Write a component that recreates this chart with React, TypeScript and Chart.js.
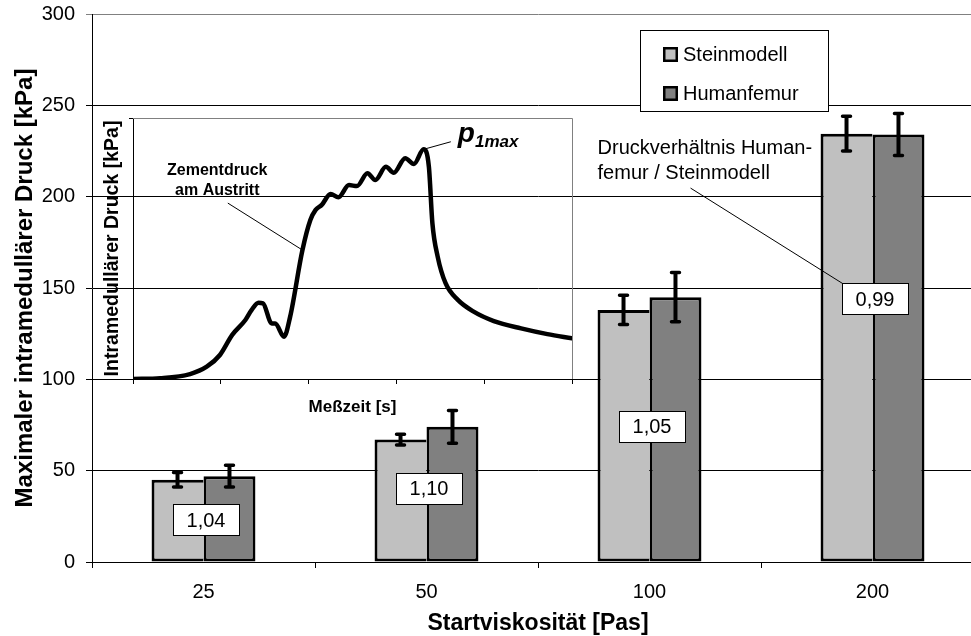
import React, { useEffect, useRef } from 'react';
import { Chart, registerables } from 'chart.js';

Chart.register(...registerables);

const FONT = '"Liberation Sans", Arial, sans-serif';

// ---- main chart data ----
const categories = ['25', '50', '100', '200'];
const seriesNames = ['Steinmodell', 'Humanfemur'];
const steinmodell = [45, 67, 138, 234.5];
const steinmodellErr = [4, 3, 8, 9.5];
const humanfemur = [47, 74, 145, 234];
const humanfemurErr = [6, 9, 13.5, 11.5];
const ratioLabels = ['1,04', '1,10', '1,05', '0,99'];
const yMin = 0;
const yMax = 300;
const yStep = 50;

// ---- inset curve data (Meßzeit vs. Intramedullärer Druck) ----
const insetTime = [0, 0.31, 0.65, 0.84, 0.99, 1.13, 1.28, 1.35, 1.43, 1.48, 1.58, 1.62, 1.72, 1.79, 1.93, 2.02, 2.08, 2.15, 2.25, 2.34, 2.46, 2.55, 2.67, 2.76, 2.88, 2.97, 3.1, 3.2, 3.31, 3.37, 3.41, 3.47, 3.56, 3.7, 3.88, 4.11, 4.42, 4.72, 5.0];
const insetPressure = [0, 0.3, 1.9, 4.7, 9.2, 16.9, 22.6, 26.4, 29.2, 29, 21.3, 21.3, 16.2, 23.9, 49.4, 60.9, 64.8, 66.7, 70.9, 69.6, 74.3, 73.9, 78.8, 76.2, 81.3, 79, 84.6, 82.4, 88, 81.3, 59.7, 46.9, 36.7, 30.3, 25.8, 22.2, 19.4, 17.2, 15.6];

// ---- annotation anchors (in data space) ----
const ratioAnchorValue = [23, 40.5, 74.3, 144];
const noteAnchor = { cat: 1.767, lines: [226.6, 212.9] };
const noteLeaderStart = { cat: 2.184, value: 204.7 };

const errorBarPlugin = {
  id: 'errorBars',
  afterDatasetsDraw(chart: any) {
    const { ctx } = chart;
    const y = chart.scales.y;
    const errs = [steinmodellErr, humanfemurErr];
    chart.data.datasets.forEach((ds: any, di: number) => {
      const meta = chart.getDatasetMeta(di);
      meta.data.forEach((bar: any, i: number) => {
        const v = ds.data[i] as number;
        const e = errs[di][i];
        const yt = y.getPixelForValue(v + e);
        const yb = y.getPixelForValue(v - e);
        const cx = bar.x;
        ctx.save();
        ctx.strokeStyle = '#000';
        ctx.lineWidth = 4;
        ctx.lineCap = 'butt';
        ctx.beginPath();
        ctx.moveTo(cx, yt);
        ctx.lineTo(cx, yb);
        ctx.stroke();
        ctx.lineWidth = 3.5;
        ctx.lineCap = 'round';
        ctx.beginPath();
        ctx.moveTo(cx - 4, yt);
        ctx.lineTo(cx + 4, yt);
        ctx.moveTo(cx - 4, yb);
        ctx.lineTo(cx + 4, yb);
        ctx.stroke();
        ctx.restore();
      });
    });
  },
};

function drawBox(ctx: CanvasRenderingContext2D, cx: number, cy: number, text: string) {
  const w = 66;
  const h = 31;
  ctx.fillStyle = '#fff';
  ctx.fillRect(Math.round(cx - w / 2) + 0.5, Math.round(cy - h / 2) + 0.5, w, h);
  ctx.strokeStyle = '#000';
  ctx.lineWidth = 1;
  ctx.strokeRect(Math.round(cx - w / 2) + 0.5, Math.round(cy - h / 2) + 0.5, w, h);
  ctx.fillStyle = '#000';
  ctx.font = `20px ${FONT}`;
  ctx.textAlign = 'center';
  ctx.textBaseline = 'middle';
  ctx.fillText(text, cx + 0.5, cy + 1.5);
}

const annotationPlugin = {
  id: 'annotations',
  afterDraw(chart: any) {
    const { ctx, chartArea } = chart;
    const x = chart.scales.x;
    const y = chart.scales.y;
    ctx.save();

    // note text
    ctx.fillStyle = '#000';
    ctx.font = `20px ${FONT}`;
    ctx.textAlign = 'left';
    ctx.textBaseline = 'middle';
    const nx = x.getPixelForValue(noteAnchor.cat);
    ctx.fillText('Druckverhältnis Human-', nx, y.getPixelForValue(noteAnchor.lines[0]));
    ctx.fillText('femur / Steinmodell', nx, y.getPixelForValue(noteAnchor.lines[1]));

    // leader line to last ratio box
    const last = categories.length - 1;
    const bx = x.getPixelForValue(last) + 3;
    const by = y.getPixelForValue(ratioAnchorValue[last]);
    ctx.strokeStyle = '#000';
    ctx.lineWidth = 1;
    ctx.beginPath();
    ctx.moveTo(x.getPixelForValue(noteLeaderStart.cat), y.getPixelForValue(noteLeaderStart.value));
    ctx.lineTo(bx - 29, by - 13);
    ctx.stroke();

    // ratio boxes
    ratioLabels.forEach((t, i) => {
      drawBox(ctx, x.getPixelForValue(i) + 2, y.getPixelForValue(ratioAnchorValue[i]), t);
    });

    // legend
    const lx = chartArea.left + 548;
    const ly = chartArea.top + 16;
    const lw = 188;
    const lh = 81;
    ctx.fillStyle = '#fff';
    ctx.fillRect(lx + 0.5, ly + 0.5, lw, lh);
    ctx.strokeStyle = '#000';
    ctx.lineWidth = 1;
    ctx.strokeRect(lx + 0.5, ly + 0.5, lw, lh);
    chart.data.datasets.forEach((ds: any, i: number) => {
      const cy = ly + 24 + i * 39;
      ctx.fillStyle = '#000';
      ctx.fillRect(lx + 23, cy - 7, 15, 15);
      ctx.fillStyle = ds.backgroundColor;
      ctx.fillRect(lx + 25.5, cy - 4.5, 10, 10);
      ctx.fillStyle = '#000';
      ctx.font = `20px ${FONT}`;
      ctx.textAlign = 'left';
      ctx.textBaseline = 'middle';
      ctx.fillText(ds.label, lx + 43, cy + 1);
    });
    ctx.restore();
  },
};

const insetPlugin = {
  id: 'insetDecor',
  beforeDatasetsDraw(chart: any) {
    const { ctx, chartArea } = chart;
    ctx.save();
    ctx.strokeStyle = '#808080';
    ctx.lineWidth = 1;
    ctx.beginPath();
    ctx.moveTo(chartArea.left, chartArea.top + 0.5);
    ctx.lineTo(chartArea.right + 0.5, chartArea.top + 0.5);
    ctx.lineTo(chartArea.right + 0.5, chartArea.bottom);
    ctx.stroke();
    ctx.restore();
  },
  afterDraw(chart: any) {
    const { ctx } = chart;
    const xs = chart.scales.x;
    const ys = chart.scales.y;
    ctx.save();
    ctx.fillStyle = '#000';
    ctx.strokeStyle = '#000';
    ctx.lineWidth = 1;

    // p1max
    let peak = 0;
    insetPressure.forEach((v, i) => { if (v > insetPressure[peak]) peak = i; });
    ctx.beginPath();
    ctx.moveTo(xs.getPixelForValue(insetTime[peak]), ys.getPixelForValue(insetPressure[peak]));
    ctx.lineTo(xs.getPixelForValue(3.62), ys.getPixelForValue(90.9));
    ctx.stroke();
    const px = xs.getPixelForValue(3.7);
    const py = ys.getPixelForValue(90.8);
    ctx.textAlign = 'left';
    ctx.textBaseline = 'alphabetic';
    ctx.font = `italic bold 28px ${FONT}`;
    ctx.fillText('p', px, py);
    const pw = ctx.measureText('p').width;
    ctx.font = `italic bold 17px ${FONT}`;
    ctx.fillText('1max', px + pw, py + 5);

    // Zementdruck am Austritt
    ctx.font = `bold 16px ${FONT}`;
    ctx.textAlign = 'center';
    ctx.textBaseline = 'middle';
    ctx.fillText('Zementdruck', xs.getPixelForValue(0.96), ys.getPixelForValue(79.7));
    ctx.fillText('am Austritt', xs.getPixelForValue(0.96), ys.getPixelForValue(72));
    ctx.beginPath();
    ctx.moveTo(xs.getPixelForValue(1.08), ys.getPixelForValue(67.4));
    ctx.lineTo(xs.getPixelForValue(insetTime[14]), ys.getPixelForValue(insetPressure[14]));
    ctx.stroke();
    ctx.restore();
  },
};

export default function App() {
  const mainRef = useRef<HTMLCanvasElement>(null);
  const insetRef = useRef<HTMLCanvasElement>(null);

  useEffect(() => {
    if (!mainRef.current || !insetRef.current) return;
    const main = new Chart(mainRef.current, {
      type: 'bar',
      data: {
        labels: categories,
        datasets: [
          {
            label: seriesNames[0],
            data: steinmodell,
            backgroundColor: '#C0C0C0',
            borderColor: '#000',
            borderWidth: { left: 3, top: 3, bottom: 3, right: 0 } as any,
            borderSkipped: false,
            categoryPercentage: 0.466,
            barPercentage: 1,
          },
          {
            label: seriesNames[1],
            data: humanfemur,
            backgroundColor: '#808080',
            borderColor: '#000',
            borderWidth: 3,
            borderSkipped: false,
            categoryPercentage: 0.466,
            barPercentage: 1,
          },
        ],
      },
      options: {
        responsive: false,
        animation: false,
        devicePixelRatio: 1,
        layout: { padding: { left: 0, top: 14, right: 6, bottom: 0 } },
        plugins: {
          legend: { display: false },
          tooltip: { enabled: false },
        },
        scales: {
          x: {
            grid: { drawOnChartArea: false, drawTicks: true, tickLength: 6, color: '#000', offset: true },
            border: { color: '#000', width: 1 },
            ticks: { color: '#000', font: { family: FONT, size: 20 }, padding: 12 },
            title: {
              display: true,
              text: 'Startviskosität [Pas]',
              color: '#000',
              font: { family: FONT, size: 23, weight: 'bold', lineHeight: 1 },
              padding: { top: 0, bottom: 4.5 },
            },
            afterFit: (s: any) => { s.height = 78; s.paddingLeft = 0; s.paddingRight = 0; },
          },
          y: {
            min: yMin,
            max: yMax,
            ticks: { stepSize: yStep, color: '#000', font: { family: FONT, size: 20 }, padding: 11 },
            grid: {
              color: (c: any) => (c.tick && c.tick.value === yMax ? '#808080' : '#000'),
              tickLength: 6,
            },
            border: { color: '#000', width: 1 },
            title: {
              display: true,
              text: 'Maximaler intramedullärer Druck [kPa]',
              color: '#000',
              font: { family: FONT, size: 24, weight: 'bold', lineHeight: 1 },
              padding: { top: 13, bottom: 0 },
            },
            afterFit: (s: any) => { s.width = 92; s.paddingTop = 0; s.paddingBottom = 0; },
          },
        },
      } as any,
      plugins: [errorBarPlugin, annotationPlugin],
    });

    const inset = new Chart(insetRef.current, {
      type: 'line',
      data: {
        datasets: [
          {
            data: insetTime.map((t, i) => ({ x: t, y: insetPressure[i] })),
            borderColor: '#000',
            borderWidth: 4.5,
            pointRadius: 0,
            cubicInterpolationMode: 'monotone',
            fill: false,
            borderJoinStyle: 'round',
            borderCapStyle: 'round',
          },
        ],
      },
      options: {
        responsive: false,
        animation: false,
        devicePixelRatio: 1,
        layout: { padding: { left: 0, top: 18, right: 28, bottom: 0 } },
        plugins: { legend: { display: false }, tooltip: { enabled: false } },
        scales: {
          x: {
            type: 'linear',
            min: 0,
            max: 5,
            ticks: { stepSize: 1, display: false },
            grid: { drawOnChartArea: false, tickLength: 5, color: '#000' },
            border: { color: '#000', width: 1 },
            title: {
              display: true,
              text: 'Meßzeit [s]',
              color: '#000',
              font: { family: FONT, size: 17, weight: 'bold', lineHeight: 1 },
              padding: { top: 0, bottom: 9.5 },
            },
            afterFit: (s: any) => { s.height = 46; s.paddingLeft = 0; s.paddingRight = 0; },
          },
          y: {
            min: 0,
            max: 100,
            ticks: { stepSize: 100, display: false },
            grid: { drawOnChartArea: false, tickLength: 4, color: '#000' },
            border: { color: '#000', width: 1 },
            title: {
              display: true,
              text: 'Intramedullärer Druck [kPa]',
              color: '#000',
              font: { family: FONT, size: 19.5, weight: 'bold', lineHeight: 1 },
              padding: { top: 12.5, bottom: 0 },
            },
            afterFit: (s: any) => { s.width = 43; s.paddingTop = 0; s.paddingBottom = 0; },
          },
        },
      } as any,
      plugins: [insetPlugin],
    });

    return () => {
      main.destroy();
      inset.destroy();
    };
  }, []);

  return (
    <div style={{ position: 'fixed', left: 0, top: 0, width: 990, height: 640, background: '#fff', overflow: 'hidden' }}>
      <canvas ref={mainRef} width={990} height={640} style={{ position: 'absolute', left: 0, top: 0 }} />
      <canvas ref={insetRef} width={510} height={325} style={{ position: 'absolute', left: 90, top: 100 }} />
    </div>
  );
}
